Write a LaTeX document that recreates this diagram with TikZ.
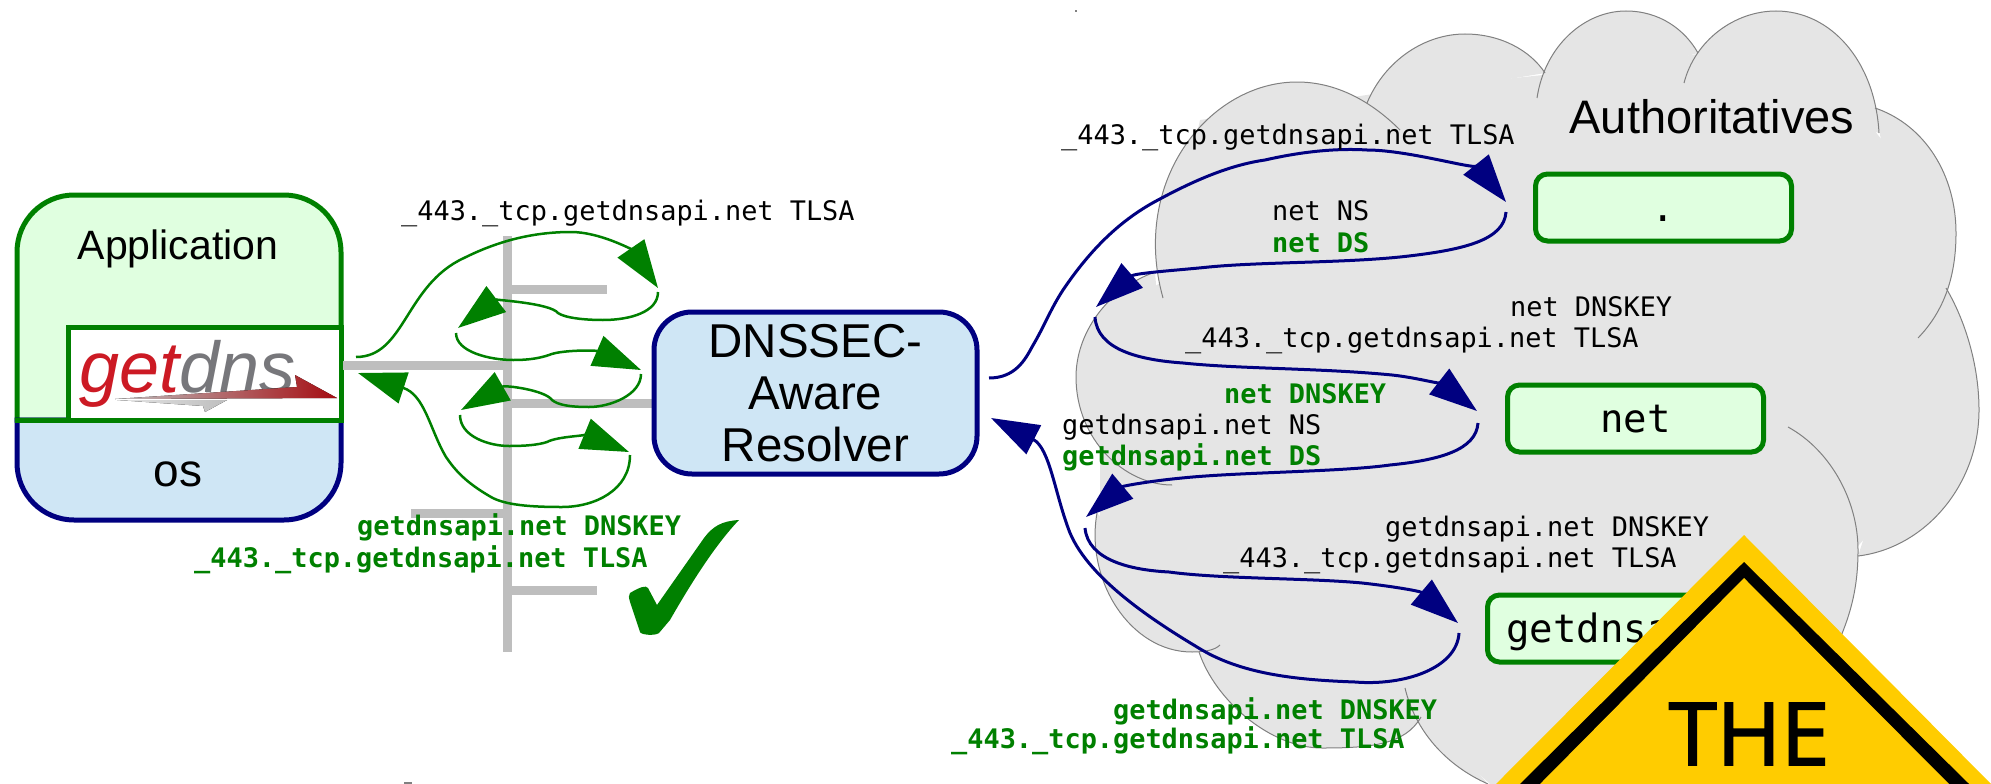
\documentclass[tikz,border=0pt]{standalone}
\usepackage{fontspec}
\setmainfont{Liberation Sans}
\setmonofont{DejaVu Sans Mono}
\newfontfamily\signfont[FakeBold=2]{Open Sans}
\usepackage{tikz}
\usetikzlibrary{arrows.meta, backgrounds}

\definecolor{okgreen}{RGB}{0,128,0}
\definecolor{darkblue}{RGB}{0,0,128}
\definecolor{palegreen}{RGB}{224,255,224}
\definecolor{paleblue}{RGB}{207,230,245}
\definecolor{busgray}{RGB}{190,190,190}
\definecolor{cloudgray}{RGB}{229,229,229}
\definecolor{signyellow}{RGB}{255,204,0}
\definecolor{logored}{RGB}{165,13,18}

\tikzset{
    dnstext/.style={font=\ttfamily\fontsize{26.9}{32}\selectfont, anchor=base west, inner sep=0},
    dnsok/.style={font=\ttfamily\bfseries\fontsize{26.9}{32}\selectfont, text=okgreen, anchor=base west, inner sep=0},
    bigtext/.style={font=\fontsize{#1}{52}\selectfont, anchor=base, inner sep=0},
    zonebox/.style={draw=okgreen, fill=palegreen, line width=5pt, rounded corners=12pt, outer sep=0,
        minimum width=256pt, minimum height=67pt, text height=27pt, text depth=0pt, inner sep=0,
        font=\ttfamily\fontsize{39}{44}\selectfont},
    stubarrow/.style={-{Triangle[length=48pt,width=32pt]}, okgreen, line width=2.5pt},
    resarrow/.style={-{Triangle[length=48pt,width=32pt]}, darkblue, line width=3pt},
    bus/.style={busgray, line width=9pt}
}

\newcommand{\cloudlobe}[1]{
    \begin{scope}[on background layer]
        \fill[cloudgray] #1 -- cycle;
    \end{scope}
    \draw[gray, line width=1pt] #1;
}

\begin{document}
\begin{tikzpicture}[x=1pt, y=-1pt]
    \useasboundingbox (0, 0) rectangle (1991, 784);

    % cloud
    \begin{scope}[on background layer]
        \fill[cloudgray] (1200,120) -- (1400,90) -- (1543,75) -- (1698,54) -- (1850,100) -- (1930,200)
            -- (1940,300) -- (1970,420) -- (1850,555) -- (1840,640) -- (1700,784) -- (1490,784)
            -- (1420,720) -- (1210,655) -- (1100,530) -- (1100,320) -- (1165,280) -- cycle;
    \end{scope}
    \cloudlobe{(1163,298) .. controls (1130,180) and (1210,82) .. (1297,82) .. controls (1340,82) and (1375,105) .. (1400,130)}
    \cloudlobe{(1367,103) .. controls (1385,60) and (1425,34) .. (1465,34) .. controls (1500,34) and (1530,50) .. (1545,73)}
    \cloudlobe{(1537,98) .. controls (1545,45) and (1585,11) .. (1626,11) .. controls (1660,11) and (1685,30) .. (1698,53)}
    \cloudlobe{(1684,83) .. controls (1695,40) and (1735,11) .. (1776,11) .. controls (1830,11) and (1875,60) .. (1879,133)}
    \cloudlobe{(1875,108) .. controls (1925,125) and (1956,175) .. (1956,233) .. controls (1956,275) and (1945,310) .. (1918,338)}
    \cloudlobe{(1946,288) .. controls (1965,320) and (1979,365) .. (1979,410) .. controls (1979,485) and (1925,548) .. (1858,556)}
    \cloudlobe{(1788,427) .. controls (1830,450) and (1858,500) .. (1858,550) .. controls (1858,590) and (1850,620) .. (1830,660)}
    \cloudlobe{(1405,688) .. controls (1415,730) and (1445,765) .. (1488,784)}
    \cloudlobe{(1199,652) .. controls (1215,700) and (1270,748) .. (1322,748) .. controls (1370,748) and (1405,745) .. (1421,717)}
    \cloudlobe{(1097,513) .. controls (1085,580) and (1130,652) .. (1192,652) .. controls (1205,652) and (1215,650) .. (1220,645)}
    \cloudlobe{(1172,485) .. controls (1125,485) and (1076,440) .. (1076,377) .. controls (1076,335) and (1105,290) .. (1155,272)}
    \fill[gray] (1075,10) rectangle (1077,12);
    \fill[gray] (404,782) rectangle (412,784);

    % application
    \draw[okgreen, fill=palegreen, line width=5pt] (17,420) [rounded corners=57pt] -- (17,195) -- (341,195)
        [sharp corners] -- (341,420) -- cycle;
    \draw[darkblue, fill=paleblue, line width=5pt] (17,420) [rounded corners=57pt] -- (17,520) -- (341,520)
        [sharp corners] -- (341,420) -- cycle;
    \draw[okgreen, fill=white, line width=5pt] (68,420) -- (68,327) -- (341,327) -- (341,420) -- cycle;
    \draw[okgreen, line width=5pt] (15,420) -- (343,420);
    \node[bigtext=41] at (178, 259) (app) {Application};
    \node[bigtext=46] at (178, 486) (os) {os};

    \node[font=\itshape\fontsize{72}{72}\selectfont, anchor=base west, inner sep=0] at (79, 392) (logo)
        {\textcolor[RGB]{204,26,36}{get}\textcolor[RGB]{119,119,123}{dns}};
    \fill[left color=busgray!40, right color=busgray] (117,400) -- (227,400) -- (205,412) -- (203,406) -- cycle;
    \fill[left color=busgray, middle color=logored, right color=logored] (115,399) -- (297,387) -- (295,375) -- (337,398) -- cycle;

    % stub resolver traffic
    \coordinate (bus_top) at (507, 236);
    \coordinate (bus_bot) at (507, 652);
    \coordinate (bus_app) at (507, 365);
    \coordinate (bus_res) at (507, 403);
    \draw[bus] (bus_top) -- (bus_bot);
    \draw[bus] (512, 289) -- (607, 289);
    \draw[bus] (503, 513) -- (411, 513);
    \draw[bus] (511, 590) -- (597, 590);
    \draw[bus] (343, 365) -- (bus_app);

    % resolver
    \draw[bus] (bus_res) -- (654, 403);
    \node[draw=darkblue, fill=paleblue, line width=5pt, rounded corners=38pt, outer sep=0,
        minimum width=323pt, minimum height=162pt, align=center, inner sep=0,
        font=\fontsize{47.5}{52}\selectfont] at (815.5, 393) (resolver) {DNSSEC-\\Aware\\Resolver};

    \coordinate (g1_s) at (356, 357);
    \coordinate (g1_t) at (658, 288);
    \coordinate (g2_s) at (658, 292);
    \coordinate (g2_t) at (458, 328);
    \coordinate (g3_s) at (456, 333);
    \coordinate (g3_t) at (641, 370);
    \coordinate (g4_s) at (641, 374);
    \coordinate (g4_t) at (461, 410);
    \coordinate (g5_s) at (460, 415);
    \coordinate (g5_t) at (629, 452);
    \coordinate (g6_s) at (630, 455);
    \coordinate (g6_t) at (358, 373);
    \draw[stubarrow] (g1_s) .. controls (405,357) and (405,285) .. (464,258) .. controls (500,240) and (535,232) .. (571,232) .. controls (600,232) and (632,250) .. (g1_t);
    \draw[stubarrow] (g2_s) .. controls (658,312) and (630,320) .. (603,320) .. controls (585,320) and (565,318) .. (558,313) .. controls (550,303) and (495,300) .. (g2_t);
    \draw[stubarrow] (g3_s) .. controls (456,352) and (490,360) .. (513,360) .. controls (530,360) and (540,358) .. (549,355) .. controls (560,350) and (595,350) .. (g3_t);
    \draw[stubarrow] (g4_s) .. controls (641,395) and (610,407) .. (589,407) .. controls (570,407) and (558,405) .. (552,400) .. controls (545,390) and (505,385) .. (g4_t);
    \draw[stubarrow] (g5_s) .. controls (460,437) and (490,446) .. (509,446) .. controls (525,446) and (538,445) .. (547,442) .. controls (558,436) and (590,436) .. (g5_t);
    \draw[stubarrow] (g6_s) .. controls (630,490) and (595,507) .. (562,507) .. controls (530,507) and (505,505) .. (491,497) .. controls (465,482) and (455,470) .. (446,457) .. controls (430,430) and (425,395) .. (g6_t);

    \node[dnstext] at (401, 220) (q_stub) {\_443.\_tcp.getdnsapi.net TLSA};
    \node[dnsok] at (357, 535) (a_key) {getdnsapi.net DNSKEY};
    \node[dnsok] at (194, 567) (a_tlsa) {\_443.\_tcp.getdnsapi.net TLSA};

    % validated
    \fill[okgreen] (739,520) .. controls (722,521) and (713,526) .. (704,538) -- (657,605) -- (648,588)
        .. controls (646,585) and (640,587) .. (630,593) .. controls (628,595) and (629,598) .. (630,602)
        -- (640,632) .. controls (641,635) and (655,636) .. (659,633) -- (670,620)
        .. controls (690,585) and (715,545) .. (739,520) -- cycle;

    % authoritatives
    \node[bigtext=47] at (1712, 133) (auth) {Authoritatives};
    \node[zonebox] at (1663.5, 207.5) (root) {.};
    \node[zonebox] at (1635.5, 418.5) (net) {net};
    \node[zonebox] at (1615.5, 628.5) (zone) {};
    \node[font=\ttfamily\fontsize{39}{44}\selectfont, anchor=base west, inner sep=0] at (1506, 642) (zone_lbl) {getdnsapi.net};

    \coordinate (n1_s) at (989, 378);
    \coordinate (n1_t) at (1506, 202);
    \coordinate (n2_s) at (1506, 212);
    \coordinate (n2_t) at (1096, 307);
    \coordinate (n3_s) at (1095, 317);
    \coordinate (n3_t) at (1477, 411);
    \coordinate (n4_s) at (1478, 423);
    \coordinate (n4_t) at (1086, 517);
    \coordinate (n5_s) at (1085, 528);
    \coordinate (n5_t) at (1458, 623);
    \coordinate (n6_s) at (1459, 633);
    \coordinate (n6_t) at (991, 418);
    \draw[resarrow] (n1_s) .. controls (1015,378) and (1025,360) .. (1032,347) .. controls (1045,325) and (1050,310) .. (1063,290) .. controls (1090,250) and (1120,220) .. (1158,200) .. controls (1195,180) and (1230,165) .. (1265,160) .. controls (1300,152) and (1335,148) .. (1367,150) .. controls (1410,150) and (1482,172) .. (n1_t);
    \draw[resarrow] (n2_s) .. controls (1504,240) and (1465,250) .. (1400,257) .. controls (1340,263) and (1260,262) .. (1209,267) .. controls (1180,270) and (1135,273) .. (n2_t);
    \draw[resarrow] (n3_s) .. controls (1097,350) and (1140,360) .. (1183,363) .. controls (1240,369) and (1320,368) .. (1392,375) .. controls (1420,378) and (1445,386) .. (n3_t);
    \draw[resarrow] (n4_s) .. controls (1476,450) and (1440,460) .. (1390,465) .. controls (1340,472) and (1240,472) .. (1182,478) .. controls (1150,481) and (1123,486) .. (n4_t);
    \draw[resarrow] (n5_s) .. controls (1088,560) and (1130,570) .. (1169,572) .. controls (1220,579) and (1310,578) .. (1362,583) .. controls (1390,586) and (1420,591) .. (n5_t);
    \draw[resarrow] (n6_s) .. controls (1457,668) and (1405,686) .. (1355,682) .. controls (1300,680) and (1245,675) .. (1202,650) .. controls (1155,622) and (1090,580) .. (1070,533) .. controls (1055,495) and (1050,448) .. (n6_t);

    \node[dnstext] at (1061, 144) (q_root) {\_443.\_tcp.getdnsapi.net TLSA};
    \node[dnstext] at (1272, 220) (a_ns) {net NS};
    \node[dnsok] at (1272, 252) (a_ds) {net DS};
    \node[dnstext] at (1510, 316) (q_key) {net DNSKEY};
    \node[dnstext] at (1185, 347) (q_net) {\_443.\_tcp.getdnsapi.net TLSA};
    \node[dnsok] at (1224, 403) (a_netkey) {net DNSKEY};
    \node[dnstext] at (1062, 434) (a_ns2) {getdnsapi.net NS};
    \node[dnsok] at (1062, 465) (a_ds2) {getdnsapi.net DS};
    \node[dnstext] at (1385, 536) (q_key2) {getdnsapi.net DNSKEY};
    \node[dnstext] at (1223, 567) (q_zone) {\_443.\_tcp.getdnsapi.net TLSA};
    \node[dnsok] at (1113, 719) (a_key2) {getdnsapi.net DNSKEY};
    \node[dnsok] at (951, 748) (a_tlsa2) {\_443.\_tcp.getdnsapi.net TLSA};

    % warning sign
    \fill[signyellow] (1744,535) -- (1991,784) -- (1496,784) -- cycle;
    \fill[black] (1744,562) -- (1969,784) -- (1520,784) -- cycle;
    \fill[signyellow] (1744,578) -- (1949,784) -- (1540,784) -- cycle;
    \node[font=\signfont\fontsize{87}{87}\selectfont, anchor=base, inner sep=0] at (1749, 765) (sign) {THE};
\end{tikzpicture}
\end{document}
